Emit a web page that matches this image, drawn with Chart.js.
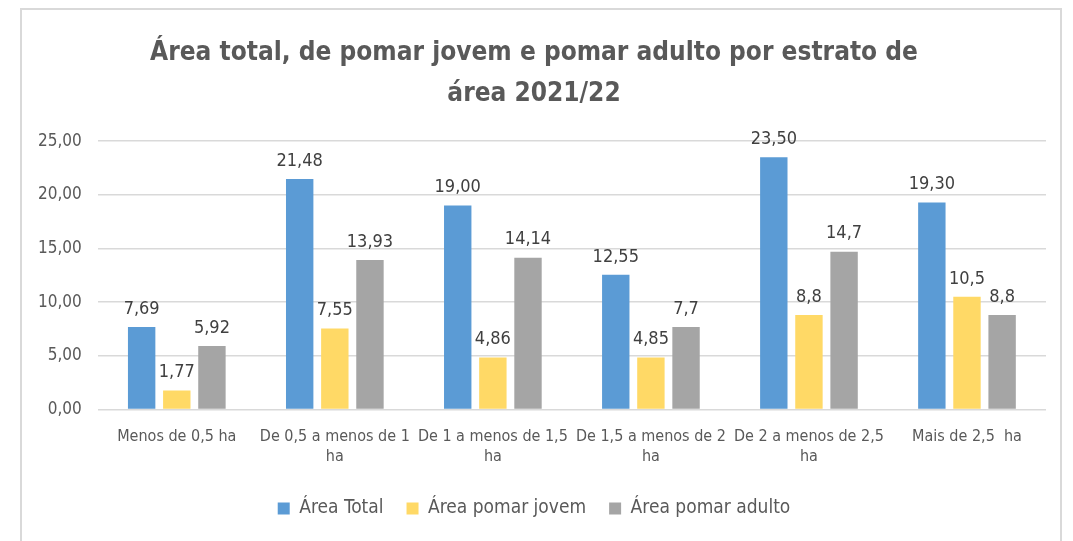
<!DOCTYPE html>
<html>
<head>
<meta charset="utf-8">
<script src="https://cdn.jsdelivr.net/npm/chart.js@4"></script>
<style>
  html, body { margin: 0; padding: 0; background: #fff; }
  #wrap {
    position: absolute; left: 20px; top: 8px; width: 1042px; height: 540px;
    border: 2px solid #d9d9d9; border-bottom: none; box-sizing: border-box;
  }
</style>
</head>
<body>
<div id="wrap"><canvas id="grafico" width="1040" height="532"></canvas></div>
<script>
// Dados
const estratos = [
  'Menos de 0,5 ha',
  ['De 0,5 a menos de 1', 'ha'],
  ['De 1 a menos de 1,5', 'ha'],
  ['De 1,5 a menos de 2', 'ha'],
  ['De 2 a menos de 2,5', 'ha'],
  'Mais de 2,5  ha'
];
const areaTotal = [7.69, 21.48, 19.00, 12.55, 23.50, 19.30];
const pomarJovem = [1.77, 7.55, 4.86, 4.85, 8.8, 10.5];
const pomarAdulto = [5.92, 13.93, 14.14, 7.7, 14.7, 8.8];
const rotulosTotal = ['7,69', '21,48', '19,00', '12,55', '23,50', '19,30'];
const rotulosJovem = ['1,77', '7,55', '4,86', '4,85', '8,8', '10,5'];
const rotulosAdulto = ['5,92', '13,93', '14,14', '7,7', '14,7', '8,8'];
const ticksY = [0, 5, 10, 15, 20, 25];

const fonte = "'Liberation Sans Narrow', 'DejaVu Sans Condensed', 'Open Sans', sans-serif";

// plugin simples para escrever os valores em cima das barras
const rotulosPlugin = {
  id: 'rotulos',
  afterDatasetsDraw(chart) {
    const ctx = chart.ctx;
    ctx.save();
    ctx.font = '18px ' + fonte;
    ctx.fillStyle = '#404040';
    ctx.textAlign = 'center';
    ctx.textBaseline = 'bottom';
    chart.data.datasets.forEach((ds, i) => {
      const meta = chart.getDatasetMeta(i);
      meta.data.forEach((bar, j) => {
        ctx.fillText(ds.rotulos[j], bar.x, bar.y - 9);
      });
    });
    ctx.restore();
  }
};

document.addEventListener('DOMContentLoaded', function () {
  const ctx = document.getElementById('grafico').getContext('2d');

  new Chart(ctx, {
    type: 'bar',
    data: {
      labels: estratos,
      datasets: [
        { label: 'Área Total', data: areaTotal, rotulos: rotulosTotal, backgroundColor: '#5b9bd5' },
        { label: 'Área pomar jovem', data: pomarJovem, rotulos: rotulosJovem, backgroundColor: '#ffd966' },
        { label: 'Área pomar adulto', data: pomarAdulto, rotulos: rotulosAdulto, backgroundColor: '#a5a5a5' }
      ]
    },
    options: {
      responsive: false,
      animation: false,
      categoryPercentage: 0.667,
      barPercentage: 0.78,
      layout: { padding: { left: 0, right: 16, top: 8, bottom: 14 } },
      plugins: {
        title: {
          display: true,
          text: ['Área total, de pomar jovem e pomar adulto por estrato de', 'área 2021/22'],
          color: '#595959',
          font: { family: fonte, size: 26, weight: 'bold', lineHeight: 1.6 },
          padding: { top: 14, bottom: 26 }
        },
        legend: {
          position: 'bottom',
          labels: {
            color: '#595959',
            font: { family: fonte, size: 19 },
            boxWidth: 12, boxHeight: 12,
            padding: 23
          }
        },
        tooltip: { enabled: false }
      },
      scales: {
        x: {
          grid: { display: false },
          border: { display: false },
          ticks: { color: '#595959', font: { family: fonte, size: 16 }, maxRotation: 0, autoSkip: false, padding: 10 }
        },
        y: {
          min: 0, max: 25,
          afterBuildTicks(axis) { axis.ticks = ticksY.map(v => ({ value: v })); },
          grid: { color: '#d9d9d9', lineWidth: 1.5, drawTicks: false },
          border: { display: false },
          ticks: {
            color: '#595959', font: { family: fonte, size: 17 }, padding: 16,
            callback: v => v.toFixed(2).replace('.', ',')
          }
        }
      }
    },
    plugins: [rotulosPlugin]
  });
});
</script>
</body>
</html>
